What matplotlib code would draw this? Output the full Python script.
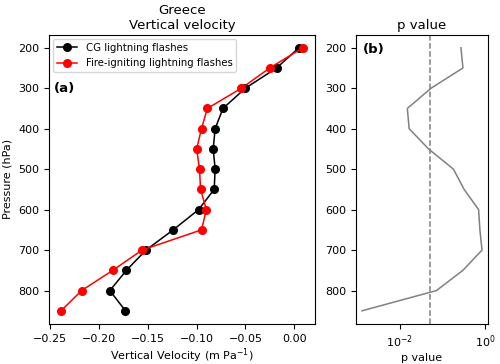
import matplotlib
matplotlib.use("Agg")
import matplotlib.pyplot as plt
from matplotlib.ticker import FixedLocator, NullLocator

# Pressure levels (hPa)
levels = [200, 250, 300, 350, 400, 450, 500, 550, 600, 650, 700, 750, 800, 850]

# Mean vertical velocity (m Pa^-1)
w_cg = [0.005, -0.018, -0.050, -0.073, -0.081, -0.083, -0.081, -0.082,
        -0.098, -0.124, -0.152, -0.172, -0.189, -0.173]
w_fire = [0.009, -0.025, -0.054, -0.089, -0.095, -0.100, -0.097, -0.096,
          -0.090, -0.095, -0.156, -0.186, -0.218, -0.239]

# p value of the difference at each level
p_vals = [0.27, 0.30, 0.054, 0.015, 0.0165, 0.047, 0.18, 0.32,
          0.70, 0.75, 0.84, 0.30, 0.072, 0.0013]
p_crit = 0.05

plt.rcParams['font.size'] = 8

fig = plt.figure(figsize=(5.0, 3.64), dpi=100)
ax1 = fig.add_axes([0.098, 0.110, 0.532, 0.795])
ax2 = fig.add_axes([0.712, 0.110, 0.264, 0.795])

# (a) vertical velocity profiles
ax1.plot(w_cg, levels, color='black', marker='o', markersize=5.5, lw=1.1,
         label='CG lightning flashes')
ax1.plot(w_fire, levels, color='red', marker='o', markersize=5.5, lw=1.1,
         label='Fire-igniting lightning flashes')
ax1.invert_yaxis()
ax1.set_xlabel('Vertical Velocity (m Pa$^{-1}$)', labelpad=2)
ax1.set_ylabel('Pressure (hPa)')
ax1.set_title('Greece\nVertical velocity', fontsize=9.5, pad=4)
ax1.legend(loc='upper left', fontsize=7.3, handlelength=2.0, borderaxespad=0.4,
           labelspacing=0.55)
ax1.text(0.02, 0.815, '(a)', transform=ax1.transAxes, fontweight='bold',
         fontsize=9.5, va='center')

# (b) p value
ax2.plot(p_vals, levels, color='gray', lw=1.1)
ax2.axvline(p_crit, color='gray', ls='--', lw=1.1)
ax2.set_xscale('log')
ax2.set_ylim(ax1.get_ylim())
ax2.xaxis.set_major_locator(FixedLocator([1e-2, 1e0]))
ax2.xaxis.set_minor_locator(NullLocator())
ax2.set_xlabel('p value', labelpad=2)
ax2.set_title('p value', fontsize=9.5, pad=4)
ax2.text(0.05, 0.95, '(b)', transform=ax2.transAxes, fontweight='bold',
         fontsize=9.5, va='center')

fig.savefig('out.png', dpi=100)
